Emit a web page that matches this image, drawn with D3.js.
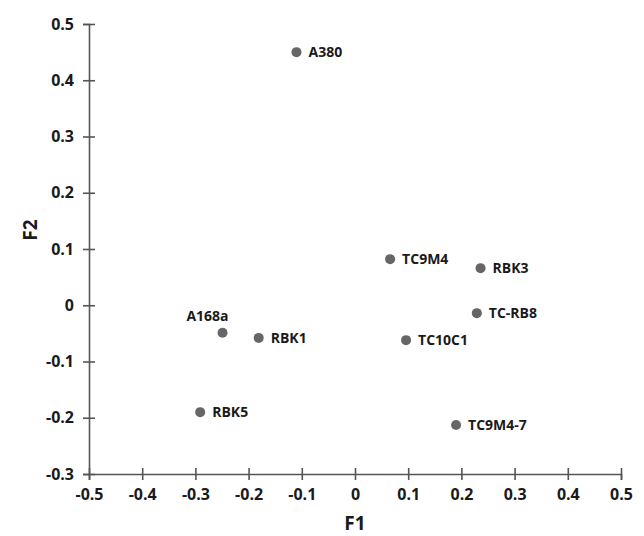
<!DOCTYPE html>
<html>
<head>
<meta charset="utf-8">
<script src="https://cdn.jsdelivr.net/npm/d3@7"></script>
<style>
  body { margin: 0; background: #fff; }
  text { font-family: "Open Sans", sans-serif; font-weight: bold; fill: #1a1a1a; }
</style>
</head>
<body>
<div id="chart"></div>
<script>
// sample names and their scores on the first two factors
var names = ["A380", "A168a", "RBK1", "RBK5", "TC9M4", "RBK3", "TC-RB8", "TC10C1", "TC9M4-7"];
var f1 = [-0.11, -0.249, -0.181, -0.291, 0.066, 0.236, 0.229, 0.096, 0.19];
var f2 = [0.45, -0.049, -0.058, -0.19, 0.082, 0.066, -0.014, -0.062, -0.213];
var xTicks = [-0.5, -0.4, -0.3, -0.2, -0.1, 0, 0.1, 0.2, 0.3, 0.4, 0.5];
var yTicks = [-0.3, -0.2, -0.1, 0, 0.1, 0.2, 0.3, 0.4, 0.5];

var width = 644, height = 536;
var margin = { top: 24, right: 23, bottom: 62, left: 89 };

var svg = d3.select("#chart").append("svg")
    .attr("width", width)
    .attr("height", height);

var x = d3.scaleLinear()
    .domain([-0.5, 0.5])
    .range([margin.left, width - margin.right]);
var y = d3.scaleLinear()
    .domain([-0.3, 0.5])
    .range([height - margin.bottom, margin.top]);

// plain hyphen for negatives, like the original
var fmt = function (d) { return d === 0 ? "0" : d3.format(".1f")(d).replace("\u2212", "-"); };

// x axis, ticks cross the line
var gx = svg.append("g")
    .attr("transform", "translate(0," + y(-0.3) + ")")
    .call(d3.axisBottom(x).tickValues(xTicks).tickFormat(fmt).tickSize(6).tickPadding(9));
gx.selectAll(".tick line").attr("y1", -6);

var gy = svg.append("g")
    .attr("transform", "translate(" + x(-0.5) + ",0)")
    .call(d3.axisLeft(y).tickValues(yTicks).tickFormat(fmt).tickSize(6).tickPadding(9));
gy.selectAll(".tick line").attr("x1", 6);

svg.selectAll(".domain, .tick line")
    .attr("stroke", "#555")
    .attr("stroke-width", 1.6);
svg.selectAll(".tick text")
    .style("font-size", "16px")
    .attr("fill", "#1a1a1a");

// axis titles
svg.append("text")
    .attr("x", x(0))
    .attr("y", 530)
    .attr("text-anchor", "middle")
    .style("font-size", "19px")
    .text("F1");

svg.append("text")
    .attr("transform", "translate(37,230) rotate(-90)")
    .attr("text-anchor", "middle")
    .style("font-size", "19px")
    .text("F2");

// points
var pts = names.map(function (n, i) { return { name: n, f1: f1[i], f2: f2[i] }; });

svg.selectAll("circle")
    .data(pts)
    .enter().append("circle")
    .attr("cx", function (d) { return x(d.f1); })
    .attr("cy", function (d) { return y(d.f2); })
    .attr("r", 5)
    .attr("fill", "#666");

svg.selectAll(".lbl")
    .data(pts)
    .enter().append("text")
    .attr("class", "lbl")
    .attr("x", function (d) { return d.name === "A168a" ? x(d.f1) + 6 : x(d.f1) + 12; })
    .attr("y", function (d) { return d.name === "A168a" ? y(d.f2) - 17 : y(d.f2); })
    .attr("dy", "0.35em")
    .attr("text-anchor", function (d) { return d.name === "A168a" ? "end" : "start"; })
    .style("font-size", "14px")
    .text(function (d) { return d.name; });
</script>
</body>
</html>
